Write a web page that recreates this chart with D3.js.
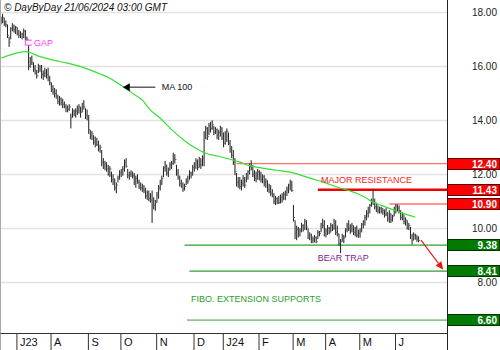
<!DOCTYPE html>
<html><head><meta charset="utf-8">
<script src="https://cdn.jsdelivr.net/npm/d3@7"></script>
<style>body{margin:0;background:#fff} svg{display:block;font-family:"Liberation Sans",Arial,sans-serif}</style>
</head><body><svg id="c" width="500" height="350"></svg>
<script>
const highs = [17.85,17.95,17.80,17.70,17.55,17.10,17.45,17.60,17.55,17.50,
17.45,17.35,17.30,17.25,17.40,17.35,17.10,16.79,16.35,16.40,
16.15,16.05,15.86,16.10,16.05,16.05,15.85,15.95,15.90,15.95,
15.65,15.40,15.30,15.20,15.15,14.95,14.90,14.85,14.80,14.70,
14.60,14.55,14.60,14.25,14.45,14.40,14.45,14.55,14.60,14.50,
14.65,14.75,14.45,14.40,14.20,13.64,13.60,13.45,13.40,13.35,
13.25,13.10,12.90,12.60,12.50,12.45,12.35,12.30,12.10,12.00,
11.85,11.70,11.95,12.15,12.20,12.30,12.55,12.60,12.20,12.10,
12.15,12.10,12.05,11.95,12.00,11.80,11.70,11.65,11.60,11.50,
11.40,11.40,11.30,11.40,11.15,11.05,11.35,11.60,11.80,11.95,
12.30,12.50,12.35,12.25,12.45,12.50,12.80,12.75,12.35,12.20,
11.95,11.80,11.70,11.65,11.85,11.95,12.15,12.10,12.35,12.45,
12.60,12.55,12.65,12.60,12.70,13.60,13.80,13.75,13.90,13.95,
14.00,13.80,13.75,13.70,13.65,13.80,13.75,13.55,13.60,13.70,
13.55,13.27,13.05,12.90,12.60,12.05,11.90,11.90,11.80,11.97,
11.90,12.05,12.15,12.40,12.52,12.34,12.15,12.10,12.20,12.15,
12.10,12.00,11.97,11.85,11.78,11.65,11.60,11.45,11.30,11.20,
11.15,11.20,11.25,11.30,11.35,11.40,11.55,11.65,11.80,11.75,
10.86,10.30,10.10,10.05,10.00,10.20,10.15,10.35,10.30,10.00,
9.85,9.80,9.70,9.75,9.70,9.93,9.90,10.20,10.35,10.30,
10.00,10.12,10.05,10.20,10.15,10.35,10.30,10.10,9.80,9.60,
9.80,9.75,10.00,10.20,10.30,10.15,10.20,10.10,10.05,10.10,
9.95,10.00,10.20,10.30,10.50,10.67,10.80,10.90,11.10,11.45,
11.10,10.95,10.85,10.80,10.80,10.75,10.70,10.75,10.60,10.67,
10.55,10.50,10.80,10.90,10.88,10.85,10.67,10.60,10.50,10.40,
10.30,10.20,10.05,9.80,9.85,9.80,9.75,9.70];

const lows = [17.55,17.60,17.50,17.45,17.05,16.72,17.00,17.30,17.25,17.20,
17.15,17.05,17.05,17.00,17.05,16.98,16.97,15.86,15.95,16.05,
15.80,15.70,15.55,15.75,15.80,15.55,15.50,15.60,15.55,15.45,
15.30,15.05,14.95,14.85,14.80,14.60,14.55,14.55,14.45,14.45,
14.30,14.30,14.35,13.70,14.10,14.15,14.10,14.20,14.25,14.10,
14.30,14.40,14.05,14.00,13.50,13.30,13.27,13.10,13.00,13.05,
12.85,12.80,12.30,12.20,12.15,12.10,11.95,11.90,11.70,11.60,
11.40,11.30,11.70,11.80,11.90,11.95,12.10,12.25,11.85,11.80,
11.90,11.85,11.60,11.50,11.65,11.45,11.40,11.35,11.30,11.10,
11.05,11.00,10.95,10.20,10.70,10.65,10.95,11.10,11.40,11.60,
11.90,12.10,11.95,11.90,12.15,12.20,12.35,12.40,11.95,11.80,
11.55,11.50,11.35,11.40,11.60,11.65,11.80,11.85,11.95,12.10,
12.20,12.15,12.25,12.20,12.30,12.30,13.30,13.27,13.45,13.55,
13.65,13.45,13.50,13.30,13.27,13.40,13.27,13.00,13.10,13.20,
13.08,12.80,12.60,12.35,11.97,11.55,11.50,11.45,11.40,11.55,
11.50,11.70,11.80,12.00,12.15,11.90,11.75,11.70,11.80,11.78,
11.70,11.67,11.55,11.50,11.35,11.30,11.20,11.15,10.90,10.86,
10.90,10.90,10.92,10.95,11.05,11.04,11.20,11.30,11.40,11.35,
10.25,9.60,9.56,9.66,9.70,9.85,9.88,9.95,9.93,9.60,
9.56,9.45,9.45,9.48,9.45,9.60,9.70,9.85,10.00,9.70,
9.66,9.75,9.78,9.85,9.90,9.95,9.75,9.70,9.35,9.08,
9.50,9.45,9.66,9.85,9.90,9.80,9.85,9.75,9.70,9.66,
9.65,9.65,9.85,10.00,10.10,10.30,10.40,10.55,10.80,10.86,
10.70,10.60,10.55,10.55,10.55,10.50,10.40,10.45,10.25,10.20,
10.20,10.25,10.45,10.55,10.60,10.55,10.30,10.30,10.15,10.10,
9.95,9.93,9.60,9.40,9.56,9.58,9.50,9.48];

const closes = [17.70,17.80,17.60,17.55,17.15,16.90,17.40,17.50,17.35,17.45,
17.25,17.15,17.20,17.10,17.30,17.05,17.00,16.00,16.20,16.15,
15.90,15.85,15.65,16.00,15.90,15.70,15.80,15.75,15.70,15.60,
15.40,15.15,15.05,15.00,14.90,14.70,14.80,14.65,14.60,14.55,
14.45,14.40,14.50,14.10,14.35,14.25,14.35,14.40,14.50,14.30,
14.55,14.50,14.20,14.15,13.65,13.45,13.50,13.20,13.30,13.10,
12.95,13.00,12.45,12.35,12.40,12.20,12.05,12.20,11.80,11.70,
11.50,11.60,11.85,12.05,12.00,12.20,12.45,12.30,11.95,12.00,
12.05,11.95,11.75,11.85,11.70,11.55,11.50,11.45,11.40,11.20,
11.30,11.10,11.05,10.80,10.85,10.95,11.25,11.50,11.70,11.85,
12.25,12.35,12.05,12.15,12.35,12.40,12.65,12.55,12.05,11.90,
11.65,11.60,11.45,11.55,11.80,11.75,12.05,12.00,12.25,12.30,
12.50,12.25,12.55,12.35,12.60,13.45,13.70,13.40,13.80,13.70,
13.85,13.55,13.65,13.45,13.55,13.70,13.35,13.15,13.50,13.60,
13.15,12.95,12.70,12.50,12.10,11.70,11.80,11.55,11.65,11.85,
11.60,11.95,12.10,12.30,12.25,12.00,11.85,12.00,12.10,11.90,
11.80,11.90,11.65,11.75,11.45,11.55,11.30,11.25,11.00,11.10,
11.00,10.95,11.15,11.05,11.25,11.30,11.45,11.60,11.75,11.40,
10.40,9.80,9.95,9.75,9.90,10.10,9.95,10.25,10.05,9.70,
9.75,9.55,9.60,9.65,9.50,9.85,9.80,10.15,10.10,9.80,
9.90,10.00,9.85,10.10,10.00,10.25,9.85,9.80,9.45,9.50,
9.70,9.65,9.95,10.10,10.00,10.05,10.10,9.85,9.95,9.75,
9.80,9.90,10.15,10.20,10.40,10.55,10.70,10.85,11.00,11.05,
10.80,10.90,10.65,10.75,10.60,10.65,10.50,10.55,10.35,10.55,
10.30,10.45,10.70,10.80,10.75,10.65,10.40,10.50,10.25,10.30,
10.05,10.10,9.70,9.55,9.75,9.65,9.60,9.55];

// 100-day moving average at bar indices
const maIndex = [0,15,24,33,41,50,55,61,67,75,81,87,92,98,106,114,121,126,133,141,147,153,161,170,178,184,190,199,207,214,219,224,229,234,239,247,255];
const maValue = [16.30,16.55,16.36,16.22,16.12,15.97,15.86,15.72,15.56,15.25,15.00,14.75,14.38,14.08,13.60,13.20,12.93,12.78,12.68,12.56,12.45,12.32,12.23,12.15,12.08,11.98,11.86,11.70,11.52,11.40,11.30,11.15,10.97,10.85,10.74,10.56,10.41];

const monthLabels = ["J23","A","S","O","N","D","J24","F","M","A","M","J"];
const monthStart = [10,31,54,74,96,119,137,159,180,200,221,243];

const yTicks = [8,10,12,14,16,18];

const levelValues = [12.40, 11.43, 10.90, 9.38, 8.41, 6.60];
const levelStart  = [145, 195, 239, 113, 116, 114.5];
const levelKind   = ["res","major","res","sup","sup","fibo"];

const W = 500, H = 350, plotR = 447, plotB = 333;
const x = d3.scaleLinear().domain([-0.6, 274.5]).range([0, plotR]);
const y = d3.scaleLinear().domain([6.12, 18.46]).range([plotB, 0]);
const svg = d3.select("#c");

// grid
svg.append("g").selectAll("line").data(yTicks).join("line")
  .attr("x1", 0).attr("x2", plotR)
  .attr("y1", d => Math.round(y(d)) + 0.5).attr("y2", d => Math.round(y(d)) + 0.5)
  .attr("stroke", "#e2e2e2").attr("stroke-width", 1.5);

// level lines
const lineStyle = {res:["#ff7272",1.3], major:["#ee0000",2.6], sup:["#2f9f2f",1.3], fibo:["#8acb8a",1.8]};
svg.append("g").selectAll("line").data(levelValues).join("line")
  .attr("x1", (d,i) => x(levelStart[i])).attr("x2", plotR)
  .attr("y1", d => y(d)).attr("y2", d => y(d))
  .attr("stroke", (d,i) => lineStyle[levelKind[i]][0])
  .attr("stroke-width", (d,i) => lineStyle[levelKind[i]][1]);

// price bars
const idx = d3.range(closes.length);
const bars = svg.append("g").attr("stroke", "#1c1c1c").attr("stroke-width", 1);
bars.selectAll("line.hl").data(idx).join("line").attr("class","hl")
  .attr("x1", i => x(i)).attr("x2", i => x(i))
  .attr("y1", i => y(highs[i])).attr("y2", i => y(lows[i]));
bars.selectAll("line.cl").data(idx).join("line").attr("class","cl")
  .attr("x1", i => x(i)).attr("x2", i => x(i) + 1.6)
  .attr("y1", i => y(closes[i])).attr("y2", i => y(closes[i]))
  .attr("stroke", "#666");

// moving average
svg.append("path").datum(maIndex)
  .attr("fill", "none").attr("stroke", "#33e033").attr("stroke-width", 1.2)
  .attr("d", d3.line().x(i => x(i)).y((i,k) => y(maValue[k])).curve(d3.curveMonotoneX));

// Annotations
const ann = svg.append("g").attr("font-size", 9);
// GAP bracket
const gapTop = 16.97, gapBot = 16.79;
svg.append("path")
  .attr("d", d3.line()([[x(19), y(gapTop)], [x(15), y(gapTop)], [x(15), y(gapBot)], [x(19), y(gapBot)]]))
  .attr("fill", "none").attr("stroke", "#ff40ff").attr("stroke-width", 1);
ann.append("text").attr("x", x(20.3)).attr("y", y((gapTop+gapBot)/2)).attr("dy", "0.35em")
  .attr("fill", "#ff40ff").text("GAP");

// MA 100 arrow
const maTip = [x(75), y(15.23)];
svg.append("line").attr("x1", maTip[0] + 6).attr("x2", x(95)).attr("y1", maTip[1]).attr("y2", maTip[1])
  .attr("stroke", "#111").attr("stroke-width", 1);
svg.append("path").attr("d", d3.line()([maTip, [maTip[0]+7, maTip[1]-4], [maTip[0]+7, maTip[1]+4]]) + "Z").attr("fill", "#000");
ann.append("text").attr("x", x(99)).attr("y", maTip[1]).attr("dy", "0.35em").attr("fill", "#111").text("MA 100");

ann.append("text").attr("x", x(197)).attr("y", y(11.78)).attr("dy", "0.35em").attr("fill", "#ff1a1a").text("MAJOR RESISTANCE");
ann.append("text").attr("x", x(195)).attr("y", y(8.9)).attr("dy", "0.35em").attr("fill", "#8a1a8a").text("BEAR TRAP");
ann.append("text").attr("x", x(117)).attr("y", y(7.38)).attr("dy", "0.35em").attr("fill", "#2aa02a").text("FIBO. EXTENSION SUPPORTS");

// red arrow
const a0 = [x(258.5), y(9.56)], a1 = [x(272.2), y(8.46)];
const ang = Math.atan2(a1[1]-a0[1], a1[0]-a0[0]);
const hl = 8, hw = 3.5;
const base = [a1[0] - hl*Math.cos(ang), a1[1] - hl*Math.sin(ang)];
svg.append("line").attr("x1", a0[0]).attr("y1", a0[1]).attr("x2", base[0]).attr("y2", base[1])
  .attr("stroke", "#ee1111").attr("stroke-width", 1.1);
svg.append("path").attr("d", d3.line()([a1,
  [base[0] + hw*Math.sin(ang), base[1] - hw*Math.cos(ang)],
  [base[0] - hw*Math.sin(ang), base[1] + hw*Math.cos(ang)]]) + "Z").attr("fill", "#ee1111");

// frame lines
svg.append("line").attr("x1", 0.5).attr("x2", 0.5).attr("y1", 0).attr("y2", H).attr("stroke", "#aaa");
svg.append("line").attr("x1", plotR + 0.5).attr("x2", plotR + 0.5).attr("y1", 0).attr("y2", H).attr("stroke", "#222");

// y axis
const yAx = svg.append("g").attr("transform", `translate(${plotR},0)`)
  .call(d3.axisRight(y).tickValues(yTicks).tickFormat(d3.format(".2f")).tickSize(0));
yAx.select(".domain").remove();
yAx.selectAll("text").attr("x", 50).attr("text-anchor", "end").attr("font-size", 10)
  .attr("font-family", "'Liberation Sans',Arial,sans-serif").attr("fill", "#222");

// level boxes
const boxG = svg.append("g").selectAll("g").data(levelValues).join("g")
  .attr("transform", d => `translate(${plotR},${Math.round(y(d))})`);
boxG.append("rect").attr("x", 0.5).attr("y", -5.5).attr("width", W - plotR - 1).attr("height", 11)
  .attr("fill", (d,i) => levelKind[i] === "res" || levelKind[i] === "major" ? "#ff0000" : "#007a00")
  .attr("stroke", (d,i) => levelKind[i] === "res" || levelKind[i] === "major" ? "#5a0000" : "#003300");
boxG.append("text").attr("x", 50).attr("y", 0).attr("dy", "0.36em").attr("text-anchor", "end")
  .attr("font-size", 10).attr("font-weight", "bold").attr("fill", "#fff").text(d => d3.format(".2f")(d));

// x axis
const xAx = svg.append("g").attr("transform", `translate(0,${plotB})`)
  .call(d3.axisBottom(x).tickValues(monthStart.map(d => d - 0.5)).tickSize(17).tickSizeOuter(0)
    .tickFormat((d,i) => monthLabels[i]));
xAx.select(".domain").attr("stroke", "#333");
xAx.selectAll(".tick line").attr("stroke", "#333");
xAx.selectAll("text").attr("x", 3).attr("y", 9).attr("dy", "0.36em").attr("text-anchor", "start")
  .attr("font-size", 11).attr("font-family", "'Liberation Sans',Arial,sans-serif").attr("fill", "#111");

// header
svg.append("text").attr("x", 4).attr("y", 7).attr("dy", "0.35em")
  .attr("font-size", 10).attr("font-style", "italic").attr("fill", "#111")
  .text("© DayByDay 21/06/2024 03:00 GMT");
</script></body></html>
